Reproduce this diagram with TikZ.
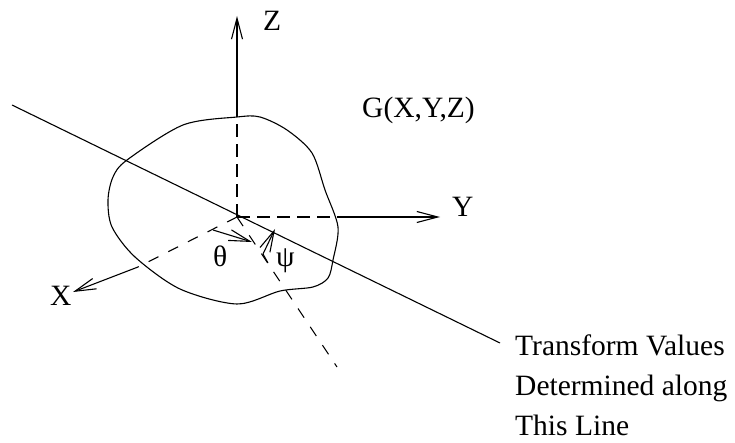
\documentclass[tikz,border=0pt]{standalone}
\usepackage{fontspec}
\setmainfont{Liberation Serif}
\usetikzlibrary{arrows.meta}
\begin{document}
\begin{tikzpicture}[
            x=1pt, y=-1pt,
            label/.style={inner sep=0pt, anchor=base west, font=\fontsize{29.5}{40}\selectfont, align=left},
            axis/.style={-{Straight Barb[length=21pt, width=11pt]}, line width=1.1pt},
            guide/.style={dash pattern=on 13pt off 7pt, line width=1.1pt},
            sparse/.style={dash pattern=on 11pt off 11pt, line width=1.1pt},
            curve/.style={line width=1.1pt}
        ]
            \useasboundingbox (0,0) rectangle (735,443);
            \coordinate (o) at (237,217);
            \coordinate (zend) at (237,117);
            \coordinate (ztip) at (237,16);
            \coordinate (yend) at (338,217);
            \coordinate (ytip) at (440,217);
            \coordinate (xend) at (138,267);
            \coordinate (xtip) at (73,292);
            \coordinate (linea) at (12,105);
            \coordinate (lineb) at (500,343);
            \coordinate (perp) at (337,367);
            \coordinate (thetaa) at (213,230);
            \coordinate (thetab) at (252,242);
            \coordinate (psia) at (268,263);
            \coordinate (psib) at (263,254);
            \coordinate (psic) at (275,229);

            \node[label] (zlabel) at (263,31) {Z};
            \node[label] (ylabel) at (452,217) {Y};
            \node[label] (xlabel) at (50,305) {X};
            \node[label] (glabel) at (362,118) {G(X,Y,Z)};
            \node[label] (theta) at (213,267) {θ};
            \node[label] (psi) at (276,267) {ψ};
            \node[label] (note) at (515,435) {Transform Values\\Determined along\\This Line};

            % outline
            \draw[curve] plot[smooth cycle, tension=0.5] coordinates {(260,117) (237,117) (183,125) (127,160) (113,177) (108,200) (112,227) (135,257) (180,289) (237,304) (280,291) (313,287) (328,278) (333,260) (338,227) (325,190) (312,153) (287,130)};

            \draw[axis] (zend) -- (ztip);
            \draw[axis] (yend) -- (ytip);
            \draw[axis] (xend) -- (xtip);
            \draw[guide] (o) -- (zend);
            \draw[guide] (o) -- (yend);
            \draw[sparse] (o) -- (xend);
            \draw[sparse] (o) -- (perp);
            \draw[curve] (linea) -- (lineb);
            \draw[axis] (thetaa) -- (thetab);
            \draw[axis] (psia) -- (psib) -- (psic);
        \end{tikzpicture}
\end{document}
